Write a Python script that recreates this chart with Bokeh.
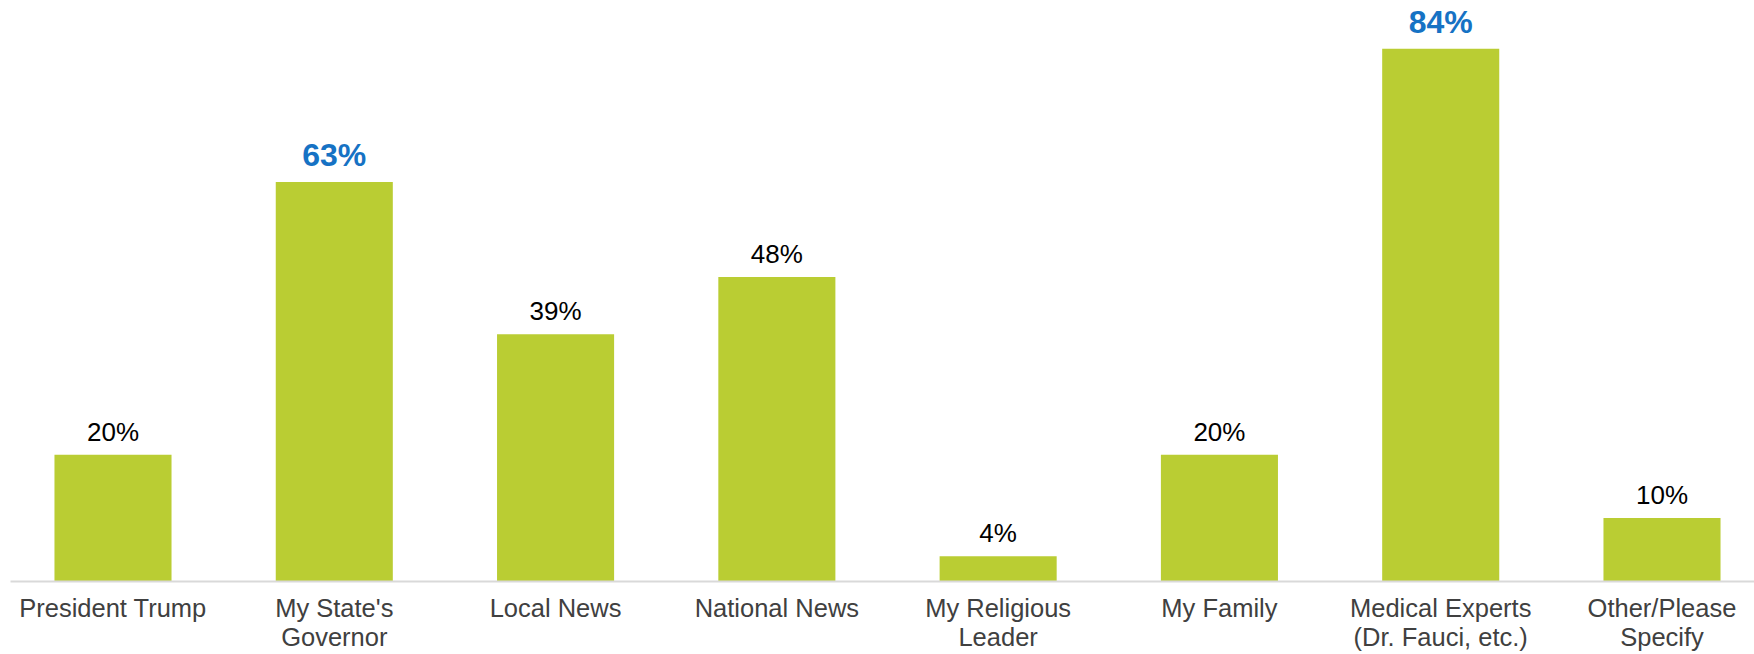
from bokeh.plotting import figure
from bokeh.models import ColumnDataSource, Range1d, FixedTicker
from bokeh.core.properties import value
from bokeh.embed import file_html
from bokeh.resources import INLINE

categories = ["President Trump", "My State's\nGovernor", "Local News", "National News",
              "My Religious\nLeader", "My Family", "Medical Experts\n(Dr. Fauci, etc.)",
              "Other/Please\nSpecify"]
values = [20, 63, 39, 48, 4, 20, 84, 10]
highlight = [False, True, False, False, False, False, True, False]

xs = list(range(len(categories)))
labels = [f"{v}%" for v in values]

FONT = "Liberation Sans"
BAR = "#bacd33"

p = figure(frame_width=1744, frame_height=581, output_backend="svg", toolbar_location=None,
           x_range=Range1d(-0.4632, 7.418), y_range=Range1d(0, 91.6),
           min_border_left=10, min_border_right=0, min_border_top=0, min_border_bottom=0)
p.outline_line_color = None
p.background_fill_color = "white"
p.border_fill_color = "white"
p.xgrid.visible = False
p.ygrid.visible = False
p.yaxis.visible = False

src = ColumnDataSource(dict(x=xs, top=values))
p.vbar(x="x", top="top", bottom=0, width=0.529, source=src, fill_color=BAR, line_color=None)

n_x = [x for x, h in zip(xs, highlight) if not h]
n_y = [v for v, h in zip(values, highlight) if not h]
n_t = [l for l, h in zip(labels, highlight) if not h]
h_x = [x for x, h in zip(xs, highlight) if h]
h_y = [v for v, h in zip(values, highlight) if h]
h_t = [l for l, h in zip(labels, highlight) if h]

p.text(x=n_x, y=n_y, text=n_t, text_align="center", text_baseline="alphabetic",
       y_offset=-23, text_font_size="26px", text_color="#000000", text_font=value(FONT))
p.text(x=h_x, y=h_y, text=h_t, text_align="center", text_baseline="alphabetic",
       y_offset=-27, text_font_size="32px", text_color="#1672c4", text_font=value(FONT),
       text_font_style="bold")

ax = p.xaxis[0]
ax.ticker = FixedTicker(ticks=xs)
ax.major_label_overrides = {i: c for i, c in enumerate(categories)}
ax.axis_line_color = "#d9d9d9"
ax.axis_line_width = 2
ax.major_tick_line_color = None
ax.minor_tick_line_color = None
ax.major_tick_in = 0
ax.major_tick_out = 0
ax.major_label_text_font = FONT
ax.major_label_text_font_size = "25.5px"
ax.major_label_text_color = "#404040"
ax.major_label_standoff = 12
ax.major_label_text_line_height = 1.05

open("out.html", "w").write(file_html(p, INLINE))
